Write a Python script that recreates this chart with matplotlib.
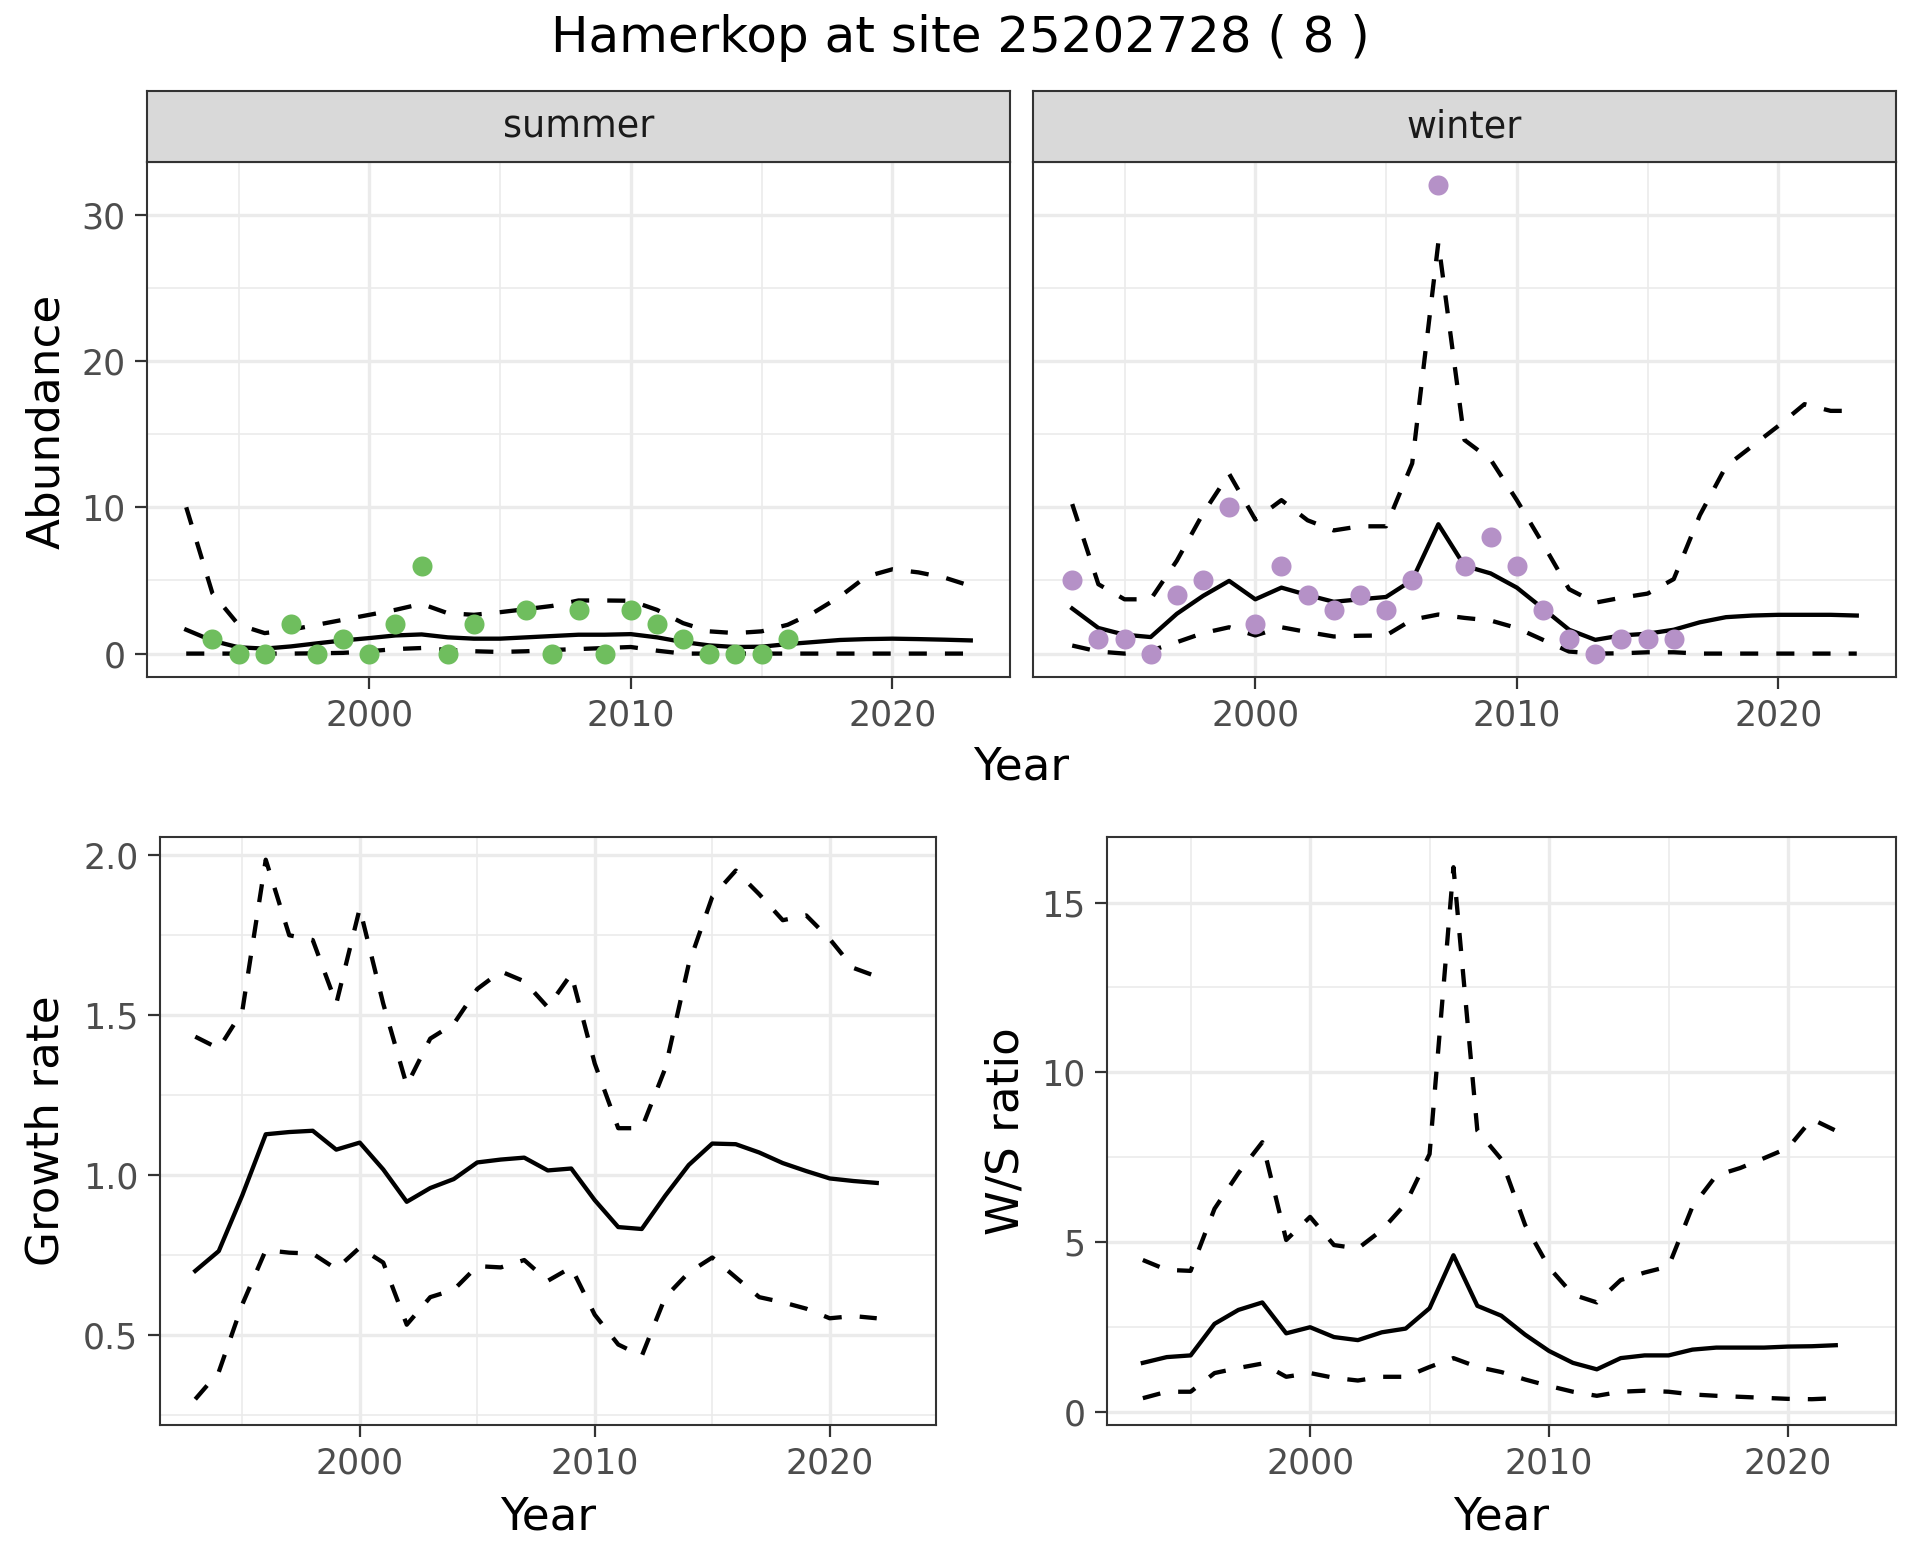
import numpy as np
import matplotlib
matplotlib.use("Agg")
import matplotlib.pyplot as plt
from matplotlib.ticker import MultipleLocator

# ---------------- data ----------------
years = list(range(1993, 2024))          # abundance model years
years_gr = list(range(1993, 2023))       # growth / ratio years

summer_count_years = list(range(1994, 2017))
summer_counts = [1, 0, 0, 2, 0, 1, 0, 2, 6, 0, 2, np.nan, 3, 0, 3, 0, 3, 2, 1, 0, 0, 0, 1]

winter_count_years = list(range(1993, 2017))
winter_counts = [5, 1, 1, 0, 4, 5, 10, 2, 6, 4, 3, 4, 3, 5, 32, 6, 8, 6, 3, 1, 0, 1, 1, 1]

summer_mean = [1.63, 0.88, 0.43, 0.34, 0.49, 0.70, 0.90, 1.06, 1.24, 1.31, 1.11, 1.02, 1.02,
               1.11, 1.20, 1.29, 1.29, 1.33, 1.11, 0.79, 0.56, 0.45, 0.47, 0.65, 0.79, 0.93,
               0.99, 1.02, 0.99, 0.95, 0.90]
summer_upper = [10.0, 4.13, 1.97, 1.40, 1.63, 1.97, 2.31, 2.65, 2.99, 3.40, 2.76, 2.65, 2.83,
                3.04, 3.26, 3.63, 3.63, 3.61, 2.99, 2.08, 1.52, 1.40, 1.52, 1.97, 2.81, 3.90,
                5.26, 5.76, 5.55, 5.19, 4.62]
summer_lower = [0.0, 0.0, 0.0, 0.0, 0.0, 0.02, 0.05, 0.16, 0.31, 0.38, 0.25, 0.16, 0.11,
                0.16, 0.25, 0.31, 0.38, 0.45, 0.20, 0.0, 0.0, 0.0, 0.0, 0.0, 0.0, 0.0,
                0.0, 0.0, 0.0, 0.0, 0.0]

winter_mean = [3.08, 1.75, 1.29, 1.13, 2.72, 3.94, 4.97, 3.71, 4.51, 4.00, 3.54, 3.71, 3.87,
               5.02, 8.84, 6.00, 5.48, 4.51, 3.08, 1.63, 0.94, 1.24, 1.36, 1.63, 2.14, 2.49,
               2.60, 2.65, 2.65, 2.65, 2.60]
winter_upper = [10.22, 4.74, 3.71, 3.71, 6.35, 9.57, 12.29, 9.16, 10.49, 9.11, 8.42, 8.70, 8.70,
                13.0, 28.1, 14.6, 13.26, 10.49, 7.50, 4.40, 3.48, 3.82, 4.10, 5.09, 9.46, 12.80,
                14.18, 15.56, 17.05, 16.59, 16.59]
winter_lower = [0.55, 0.14, 0.0, 0.2, 0.78, 1.40, 1.80, 1.24, 1.80, 1.47, 1.17, 1.22, 1.24,
                2.32, 2.67, 2.44, 2.26, 1.75, 0.94, 0.14, 0.0, 0.02, 0.09, 0.09, 0.0, 0.0,
                0.0, 0.0, 0.0, 0.0, 0.0]

growth_mean = [0.699, 0.761, 0.935, 1.126, 1.133, 1.137, 1.078, 1.100, 1.016, 0.915, 0.958,
               0.986, 1.038, 1.047, 1.053, 1.013, 1.019, 0.920, 0.836, 0.830, 0.934, 1.030,
               1.097, 1.095, 1.069, 1.036, 1.011, 0.988, 0.980, 0.974]
growth_upper = [1.431, 1.394, 1.510, 1.984, 1.748, 1.733, 1.534, 1.832, 1.534, 1.279, 1.425,
                1.471, 1.580, 1.635, 1.604, 1.523, 1.627, 1.347, 1.145, 1.145, 1.332, 1.658,
                1.868, 1.950, 1.876, 1.795, 1.810, 1.736, 1.646, 1.619]
growth_lower = [0.298, 0.383, 0.594, 0.764, 0.756, 0.753, 0.705, 0.772, 0.725, 0.531, 0.617,
                0.640, 0.714, 0.710, 0.733, 0.668, 0.710, 0.562, 0.469, 0.433, 0.617, 0.694,
                0.741, 0.679, 0.617, 0.601, 0.581, 0.551, 0.558, 0.551]

ratio_mean = [1.44, 1.61, 1.66, 2.59, 3.00, 3.22, 2.31, 2.49, 2.20, 2.11, 2.34, 2.45, 3.05,
              4.61, 3.12, 2.83, 2.27, 1.79, 1.44, 1.25, 1.58, 1.66, 1.66, 1.83, 1.89, 1.89,
              1.89, 1.92, 1.93, 1.96]
ratio_upper = [4.47, 4.18, 4.15, 5.98, 7.03, 7.94, 5.06, 5.74, 4.91, 4.81, 5.35, 6.13, 7.59,
               16.04, 8.28, 7.44, 5.50, 4.25, 3.45, 3.22, 3.88, 4.10, 4.28, 6.04, 6.96, 7.18,
               7.47, 7.77, 8.62, 8.28]
ratio_lower = [0.40, 0.59, 0.59, 1.14, 1.29, 1.42, 1.03, 1.14, 1.00, 0.92, 1.03, 1.03, 1.32,
               1.58, 1.32, 1.17, 0.95, 0.76, 0.59, 0.47, 0.59, 0.62, 0.59, 0.51, 0.47, 0.44,
               0.41, 0.38, 0.37, 0.40]

title = "Hamerkop at site 25202728 ( 8 )"
summer_color = "#6FBE5E"
winter_color = "#B591C7"

# ---------------- layout ----------------
W, H = 1920, 1560
DPI = 200
fig = plt.figure(figsize=(W / DPI, H / DPI), dpi=DPI)
fig.patch.set_facecolor("white")
plt.rcParams["font.family"] = ["DejaVu Sans"]


def box(x0, y0, x1, y1):
    return [x0 / W, 1 - y1 / H, (x1 - x0) / W, (y1 - y0) / H]


GRID = "#EBEBEB"
DARK = "#333333"
TICKC = "#4D4D4D"
LW = 1.55
DASH = (4.2, 4.2)
AXT = 16.3


def style(ax, ymajor, yminor, ylim, show_ylabels=True):
    ax.set_facecolor("white")
    for s in ax.spines.values():
        s.set_color(DARK)
        s.set_linewidth(0.75)
    ax.set_xlim(1991.5, 2024.5)
    ax.set_ylim(*ylim)
    ax.xaxis.set_major_locator(MultipleLocator(10))
    ax.xaxis.set_minor_locator(MultipleLocator(5))
    ax.yaxis.set_major_locator(MultipleLocator(ymajor))
    ax.yaxis.set_minor_locator(MultipleLocator(yminor))
    ax.grid(which="major", color=GRID, lw=1.2)
    ax.grid(which="minor", color=GRID, lw=0.6)
    ax.set_axisbelow(True)
    ax.tick_params(which="major", length=4.3, width=0.8, color=DARK,
                   labelsize=12.5, labelcolor=TICKC, pad=3.5)
    ax.tick_params(which="minor", length=0)
    if not show_ylabels:
        ax.tick_params(axis="y", which="both", length=0, labelleft=False)


def band(ax, x, mean, lo, hi):
    ax.plot(x, hi, color="black", lw=LW, dashes=DASH, zorder=3)
    ax.plot(x, lo, color="black", lw=LW, dashes=DASH, zorder=3)
    ax.plot(x, mean, color="black", lw=LW, zorder=3)


def strip(x0, x1, label):
    sax = fig.add_axes(box(x0, 90.5, x1, 162))
    sax.set_facecolor("#D9D9D9")
    sax.set_xticks([])
    sax.set_yticks([])
    for s in sax.spines.values():
        s.set_color(DARK)
        s.set_linewidth(0.75)
    fig.text((x0 + x1) / 2 / W, 1 - 138 / H, label, ha="center", va="baseline",
             fontsize=13.2, color="#1A1A1A")


ab_ylim = (-1.6, 33.6)

# summer
ax1 = fig.add_axes(box(147, 162, 1010, 677))
style(ax1, 10, 5, ab_ylim)
band(ax1, years, summer_mean, summer_lower, summer_upper)
ax1.scatter(summer_count_years, summer_counts, s=52, color=summer_color, zorder=4,
            linewidths=0)
strip(147, 1010, "summer")

# winter
ax2 = fig.add_axes(box(1033, 162, 1896, 677))
style(ax2, 10, 5, ab_ylim, show_ylabels=False)
band(ax2, years, winter_mean, winter_lower, winter_upper)
ax2.scatter(winter_count_years, winter_counts, s=52, color=winter_color, zorder=4,
            linewidths=0)
strip(1033, 1896, "winter")

# growth rate
ax3 = fig.add_axes(box(160, 837, 935.5, 1425))
style(ax3, 0.5, 0.25, (0.2175, 2.055))
band(ax3, years_gr, growth_mean, growth_lower, growth_upper)

# W/S ratio
ax4 = fig.add_axes(box(1107, 837, 1895.5, 1425))
style(ax4, 5, 2.5, (-0.39, 16.93))
band(ax4, years_gr, ratio_mean, ratio_lower, ratio_upper)

# ---------------- texts ----------------
fig.text(960 / W, 1 - 52 / H, title, ha="center", va="baseline", fontsize=18, color="black")
fig.text(1021 / W, 1 - 780 / H, "Year", ha="center", va="baseline", fontsize=AXT)
fig.text(548 / W, 1 - 1529 / H, "Year", ha="center", va="baseline", fontsize=AXT)
fig.text(1501 / W, 1 - 1529 / H, "Year", ha="center", va="baseline", fontsize=AXT)
fig.text(59 / W, 1 - 421 / H, "Abundance", rotation=90, rotation_mode="anchor",
         ha="center", va="baseline", fontsize=AXT)
fig.text(59 / W, 1 - 1131 / H, "Growth rate", rotation=90, rotation_mode="anchor",
         ha="center", va="baseline", fontsize=AXT)
fig.text(1019 / W, 1 - 1131 / H, "W/S ratio", rotation=90, rotation_mode="anchor",
         ha="center", va="baseline", fontsize=AXT)

fig.savefig("out.png", dpi=DPI, facecolor="white")
